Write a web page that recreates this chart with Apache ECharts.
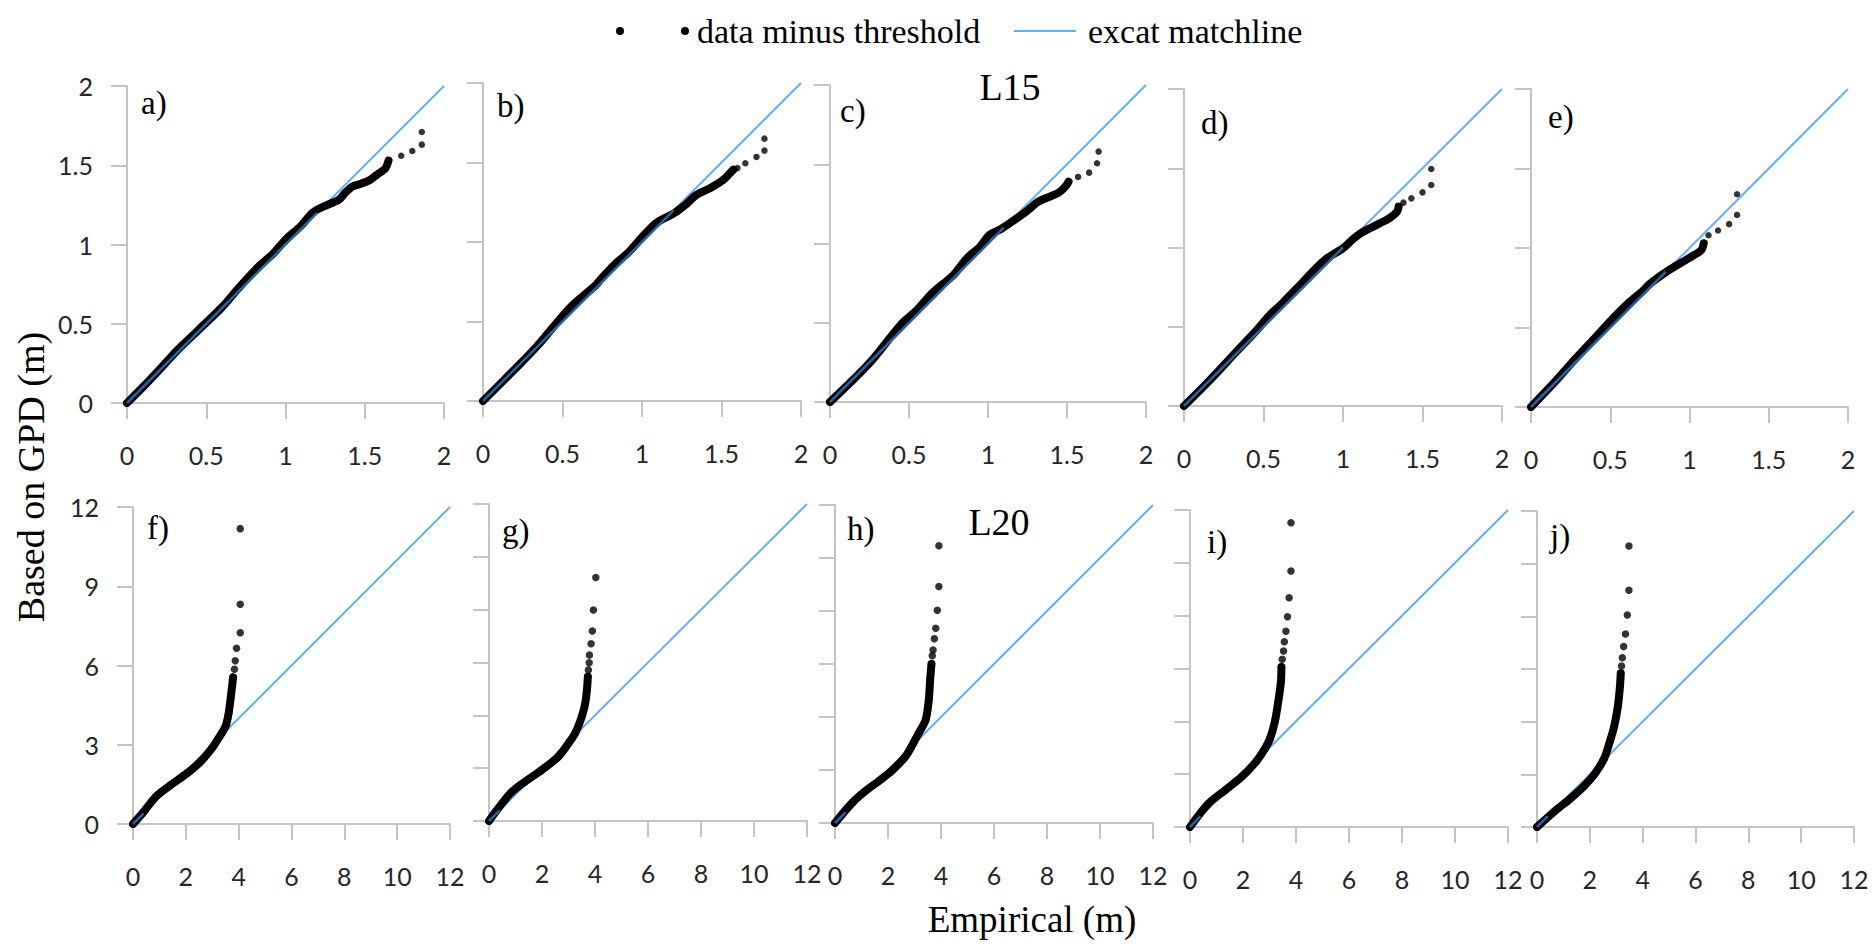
<!DOCTYPE html>
<html>
<head>
<meta charset="utf-8">
<script src="https://cdn.jsdelivr.net/npm/echarts@6/dist/echarts.min.js"></script>
<style>
html,body{margin:0;padding:0;background:#fff;}
#c{width:1872px;height:944px;}
</style>
</head>
<body>
<div id="c"></div>
<script>
// ---------- data (empirical, GPD) ----------
const bandA = [[0,0],[0.1,0.1],[0.2,0.205],[0.32,0.335],[0.45,0.46],[0.6,0.605],[0.7,0.72],[0.83,0.86],[0.92,0.94],[1.0,1.03],[1.1,1.12],[1.17,1.2],[1.23,1.235],[1.3,1.265],[1.34,1.285],[1.38,1.33],[1.42,1.365],[1.48,1.385],[1.53,1.405],[1.59,1.45],[1.63,1.48],[1.65,1.53]];
const tailA = [[1.73,1.56],[1.80,1.59],[1.86,1.63],[1.86,1.71]];

const bandB = [[0,0],[0.2,0.2],[0.34,0.345],[0.55,0.59],[0.7,0.72],[0.74,0.765],[0.82,0.85],[0.92,0.94],[1.0,1.03],[1.09,1.12],[1.2,1.18],[1.28,1.24],[1.34,1.295],[1.43,1.34],[1.51,1.39],[1.55,1.43],[1.575,1.455]];
const tailB = [[1.6,1.465],[1.65,1.495],[1.72,1.535],[1.77,1.575],[1.77,1.65]];

const bandC = [[0,0],[0.25,0.246],[0.45,0.49],[0.55,0.58],[0.65,0.69],[0.78,0.8],[0.87,0.91],[0.95,0.98],[1.01,1.055],[1.08,1.09],[1.155,1.14],[1.24,1.2],[1.32,1.265],[1.44,1.317],[1.49,1.36],[1.51,1.39]];
const tailC = [[1.57,1.42],[1.64,1.447],[1.69,1.506],[1.70,1.58]];

const bandD = [[0,0],[0.15,0.15],[0.33,0.343],[0.45,0.47],[0.54,0.574],[0.62,0.65],[0.71,0.742],[0.81,0.848],[0.9,0.932],[1.0,0.995],[1.06,1.05],[1.11,1.089],[1.17,1.121],[1.23,1.152],[1.29,1.184],[1.34,1.226],[1.35,1.258]];
const tailD = [[1.38,1.283],[1.43,1.31],[1.5,1.348],[1.555,1.394],[1.555,1.495]];

const bandE = [[0,0],[0.16,0.168],[0.25,0.27],[0.39,0.42],[0.5,0.54],[0.615,0.655],[0.7,0.725],[0.75,0.775],[0.87,0.861],[0.96,0.914],[1.03,0.956],[1.075,0.987],[1.09,1.03]];
const tailE = [[1.12,1.08],[1.18,1.11],[1.25,1.15],[1.3,1.208],[1.3,1.338]];

const bandF = [[0,0],[0.37,0.42],[0.88,1.05],[1.39,1.45],[2.06,1.93],[2.57,2.37],[2.99,2.87],[3.24,3.25],[3.5,3.69],[3.62,4.19],[3.72,4.95],[3.79,5.55]];
const tailF = [[3.84,5.86],[3.87,6.18],[3.92,6.65],[4.06,7.24],[4.06,8.32],[4.06,11.18]];

const bandG = [[0,0],[0.35,0.48],[0.86,1.1],[1.36,1.49],[1.99,1.93],[2.62,2.44],[3.0,2.94],[3.25,3.32],[3.5,3.95],[3.63,4.45],[3.7,5.0],[3.73,5.46]];
const tailG = [[3.75,5.72],[3.78,5.99],[3.79,6.28],[3.85,6.71],[3.9,7.19],[3.94,7.99],[4.03,9.22]];

const bandH = [[0,0],[0.64,0.75],[1.14,1.2],[1.65,1.58],[2.15,1.98],[2.66,2.51],[2.96,3.02],[3.16,3.39],[3.42,3.89],[3.54,4.65],[3.59,5.4],[3.64,6.0]];
const tailH = [[3.67,6.31],[3.7,6.53],[3.75,6.95],[3.8,7.35],[3.86,8.03],[3.92,8.92],[3.92,10.46]];

const bandI = [[0,0],[0.69,0.88],[1.32,1.39],[1.95,1.9],[2.45,2.42],[2.83,2.97],[3.02,3.35],[3.2,3.98],[3.33,4.74],[3.43,5.49],[3.45,6.06]];
const tailI = [[3.48,6.35],[3.53,6.66],[3.56,7.01],[3.62,7.41],[3.68,7.96],[3.74,8.68],[3.81,9.69],[3.81,11.52]];

const bandJ = [[0,0],[0.69,0.62],[1.24,1.06],[1.79,1.56],[2.21,2.05],[2.55,2.62],[2.76,3.25],[2.92,3.81],[3.06,4.57],[3.14,5.33],[3.17,5.84]];
const tailJ = [[3.2,6.11],[3.23,6.43],[3.28,6.85],[3.35,7.33],[3.42,8.05],[3.48,8.99],[3.48,10.67]];

// exact 1:1 matchlines
const matchTop = [[0,0],[2,2]];
const matchBottom = [[0,0],[12,12]];
// how far along the 1:1 line the data band hides it
const coverEnds = [1.2, 1.2, 1.1, 1.0, 0.85, 0.4, 0.4, 0.4, 0.4, 0.4];

const panelLabels = ['a)','b)','c)','d)','e)','f)','g)','h)','i)','j)'];
const rowTitles = ['L15','L20'];
const legendNames = ['data minus threshold','excat matchline'];
const axisTitles = ['Empirical (m)','Based on GPD (m)'];

// ---------- layout ----------
const bands = [bandA,bandB,bandC,bandD,bandE,bandF,bandG,bandH,bandI,bandJ];
const tails = [tailA,tailB,tailC,tailD,tailE,tailF,tailG,tailH,tailI,tailJ];
const grids = [
  [127,86,317,317],[483,83,318,318],[830,85,316,317],[1184,89,318,317],[1531,89,317,318],
  [133,507,317,317],[489,504,318,317],[835,505,318,318],[1190,510,318,317],[1537,511,317,316]
];
const labelPos = [[141,103],[497,106],[840,111],[1201,123],[1548,117],[147,528],[502,531],[847,529],[1207,542],[1550,536]];

const SERIF = '"Liberation Serif","DejaVu Serif",serif';
const SANS = 'Lato, "Open Sans", sans-serif';
const AX = '#c4c4c4';
const BLUE = '#64aef5';

const option = {
  animation: false,
  backgroundColor: '#fff',
  grid: [], xAxis: [], yAxis: [], series: [],
  legend: [
    {left: 611, top: 9, itemWidth: 73, itemHeight: 8, selectedMode: false,
     data: [{name: legendNames[0], icon: 'path://M0,4a4,4 0 1,0 8,0a4,4 0 1,0 -8,0M65,4a4,4 0 1,0 8,0a4,4 0 1,0 -8,0'}],
     textStyle: {fontFamily: SERIF, fontSize: 34, lineHeight: 34, color: '#000', padding: [0,0,0,3]}},
    {left: 1009, top: 9, itemWidth: 62, itemHeight: 2, selectedMode: false,
     data: [{name: legendNames[1], icon: 'rect'}],
     textStyle: {fontFamily: SERIF, fontSize: 34, lineHeight: 34, color: '#000', padding: [0,0,0,7]}}
  ],
  graphic: []
};

for (let i = 0; i < 10; i++) {
  const top = i < 5;
  const g = grids[i];
  option.grid.push({left: g[0], top: g[1], width: g[2], height: g[3], containLabel: false});
  const common = {
    type: 'value', gridIndex: i, min: 0,
    axisLine: {show: true, lineStyle: {color: AX, width: 2}},
    axisTick: {show: true, inside: false, length: 16, lineStyle: {color: AX, width: 2}},
    splitLine: {show: false}
  };
  option.xAxis.push(Object.assign({}, common, {
    max: top ? 2 : 12, interval: top ? 0.5 : 2,
    axisLabel: {show: true, margin: 39, fontFamily: SANS, fontSize: 25, color: '#262626'}
  }));
  option.yAxis.push(Object.assign({}, common, {
    max: top ? 2 : 12, interval: top ? 0.5 : (i === 5 ? 3 : 2),
    axisLabel: {show: i === 0 || i === 5, margin: 34, fontFamily: SANS, fontSize: 25, color: '#262626'}
  }));
  option.series.push({
    type: 'line', name: legendNames[1], xAxisIndex: i, yAxisIndex: i, z: 1,
    data: top ? matchTop : matchBottom, symbol: 'none', silent: true,
    lineStyle: {color: BLUE, width: 2}, itemStyle: {color: BLUE}
  });
  option.series.push({
    type: 'line', name: legendNames[0], xAxisIndex: i, yAxisIndex: i, z: 2,
    data: bands[i], symbol: 'none', silent: true, smooth: 0.3,
    lineStyle: {color: '#000', width: 8, cap: 'round', join: 'round'}, itemStyle: {color: '#000'}
  });
  option.series.push({
    type: 'scatter', name: legendNames[0], xAxisIndex: i, yAxisIndex: i, z: 3,
    data: bands[i].concat(tails[i]), symbol: 'circle', symbolSize: top ? 6.5 : 7.5, silent: true,
    itemStyle: {color: '#000'}
  });
  option.series.push({
    type: 'line', name: 'cover', xAxisIndex: i, yAxisIndex: i, z: 4,
    data: [[0,0],[coverEnds[i], coverEnds[i]]], symbol: 'none', silent: true,
    lineStyle: {color: '#2a62a0', width: 2.5}
  });
  option.graphic.push({
    type: 'text', x: labelPos[i][0], y: labelPos[i][1], silent: true,
    style: {text: panelLabels[i], font: '33px ' + SERIF, fill: '#000', textAlign: 'left', textVerticalAlign: 'middle'}
  });
}
option.graphic.push(
  {type: 'text', x: 1010, y: 87, silent: true,
   style: {text: rowTitles[0], font: '38px ' + SERIF, fill: '#000', textAlign: 'center', textVerticalAlign: 'middle'}},
  {type: 'text', x: 999, y: 522, silent: true,
   style: {text: rowTitles[1], font: '38px ' + SERIF, fill: '#000', textAlign: 'center', textVerticalAlign: 'middle'}},
  {type: 'text', x: 1032, y: 919, silent: true,
   style: {text: axisTitles[0], font: '37px ' + SERIF, fill: '#000', textAlign: 'center', textVerticalAlign: 'middle'}},
  {type: 'text', x: 31, y: 477, rotation: Math.PI / 2, silent: true,
   style: {text: axisTitles[1], font: '38px ' + SERIF, fill: '#000', textAlign: 'center', textVerticalAlign: 'middle'}}
);

const chart = echarts.init(document.getElementById('c'), null, {renderer: 'svg', width: 1872, height: 944});
chart.setOption(option);
</script>
</body>
</html>
